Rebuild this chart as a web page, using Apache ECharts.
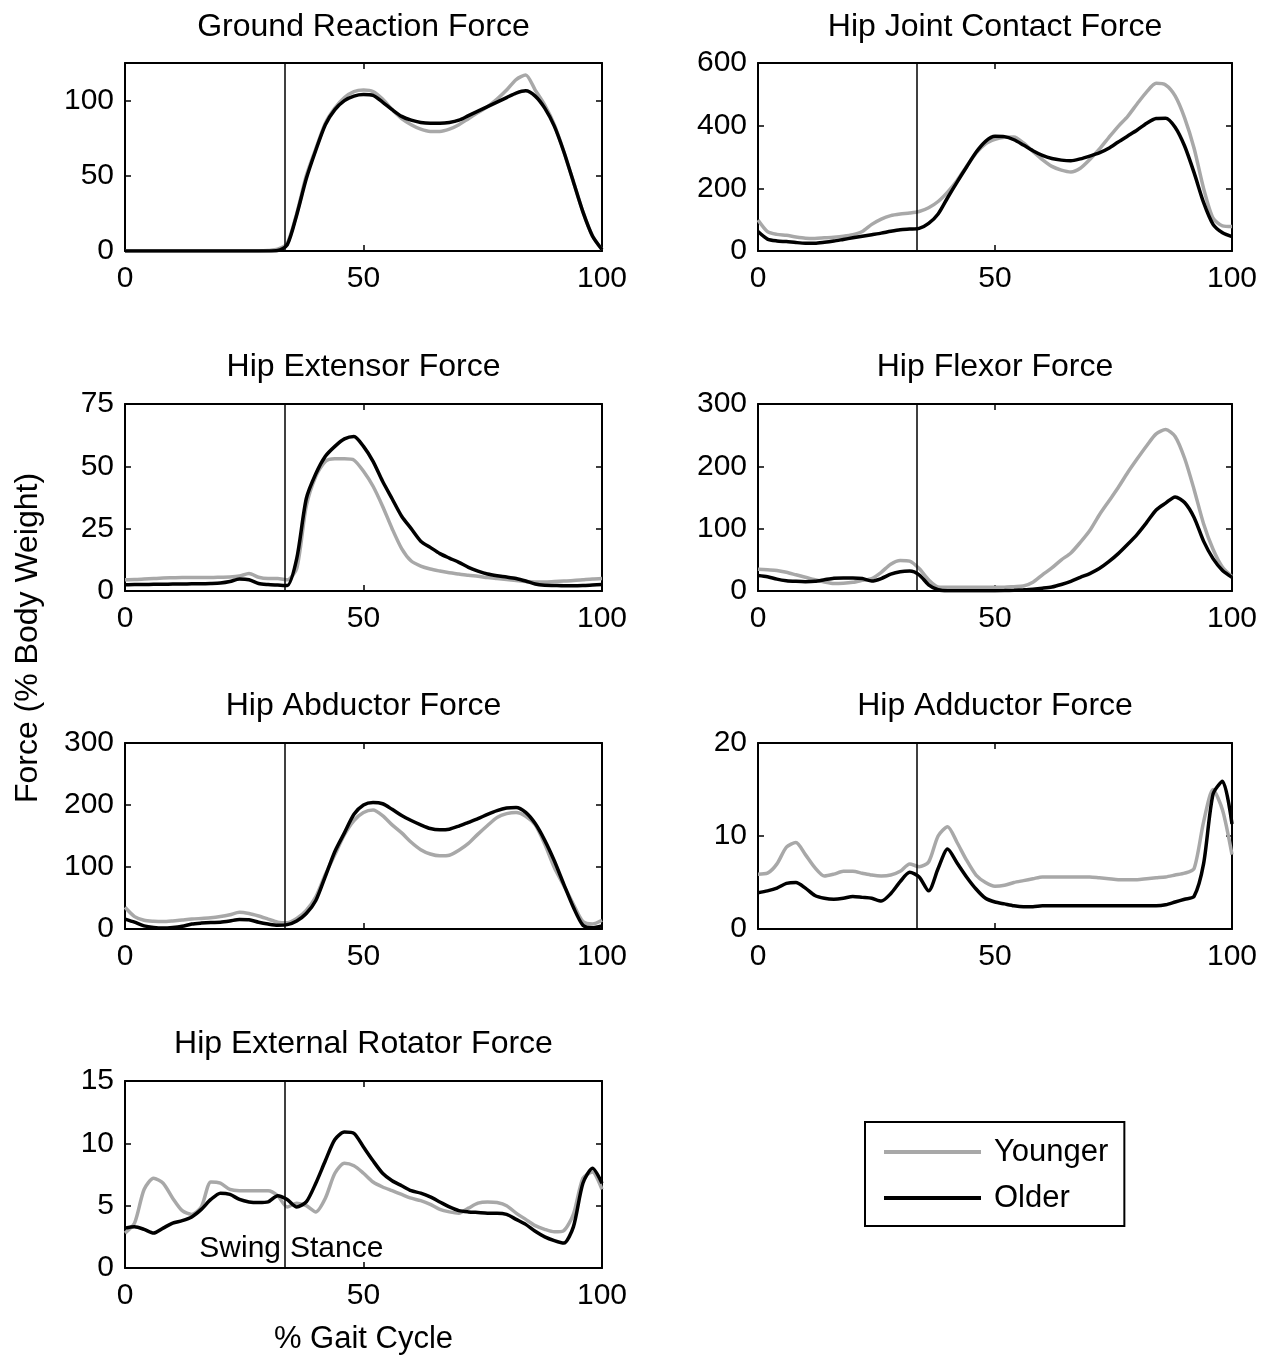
<!DOCTYPE html>
<html>
<head>
<meta charset="utf-8">
<title>Hip forces over the gait cycle</title>
<script src="https://cdn.jsdelivr.net/npm/echarts@6/dist/echarts.min.js"></script>
<style>
  html, body { margin: 0; padding: 0; background: #fff; }
  #chart { width: 1277px; height: 1359px; }
</style>
</head>
<body>
<div id="chart"></div>
<script>
// % gait cycle, sampled every 2%
var gait = [0, 2, 4, 6, 8, 10, 12, 14, 16, 18,
  20, 22, 24, 26, 28, 30, 32, 34, 36, 38,
  40, 42, 44, 46, 48, 50, 52, 54, 56, 58,
  60, 62, 64, 66, 68, 70, 72, 74, 76, 78,
  80, 82, 84, 86, 88, 90, 92, 94, 96, 98, 100];

var swingStance = 33.5; // toe-off / heel-strike line

var panelTitles = ['Ground Reaction Force', 'Hip Joint Contact Force', 'Hip Extensor Force',
  'Hip Flexor Force', 'Hip Abductor Force', 'Hip Adductor Force', 'Hip External Rotator Force'];
var yMax = [125, 600, 75, 300, 300, 20, 15];
var yStep = [50, 200, 25, 100, 100, 10, 5];
var xTicks = [0, 50, 100];

var grfYounger = [0, 0, 0, 0, 0, 0, 0, 0, 0, 0,
  0, 0, 0, 0, 0, 0.3, 1.2, 5, 25, 50,
  68, 85, 95, 102, 106, 107, 106, 101, 94, 88,
  84, 81, 79.5, 79.5, 81, 84, 88, 92, 96, 101,
  107, 114, 117, 107, 97, 84, 66, 46, 26, 10, 1];
var grfOlder = [0, 0, 0, 0, 0, 0, 0, 0, 0, 0,
  0, 0, 0, 0, 0, 0, 0.3, 4, 24, 48,
  67, 84, 94, 100, 103, 104, 103.5, 99, 94, 89.5,
  87, 85.5, 85, 85, 85.5, 87, 90, 93, 96, 99,
  102, 105, 106.5, 103, 95, 83, 66, 46, 26, 10, 1];

var hjcfYounger = [99, 62, 53, 50, 45, 41, 40, 42, 44, 47,
  52, 62, 85, 102, 113, 118, 121, 126, 138, 158,
  188, 225, 270, 312, 342, 356, 363, 364, 345, 318,
  292, 270, 258, 252, 264, 292, 325, 362, 398, 430,
  470, 508, 535, 530, 495, 425, 328, 200, 105, 80, 78];
var hjcfOlder = [62, 38, 32, 30, 27, 25, 25, 28, 32, 37,
  42, 47, 52, 57, 63, 68, 70, 72, 88, 118,
  170, 220, 268, 315, 350, 366, 365, 355, 338, 320,
  305, 295, 290, 288, 294, 303, 313, 328, 348, 367,
  386, 408, 423, 424, 395, 335, 250, 155, 85, 58, 46];

var extYounger = [4.5, 4.6, 4.8, 5, 5.2, 5.3, 5.4, 5.4, 5.4, 5.4,
  5.5, 5.6, 6, 7, 5.5, 5, 5, 4.5, 9, 34,
  46, 52, 53, 53, 52.5, 48, 42, 34, 25, 17,
  12, 10, 8.8, 8, 7.3, 6.8, 6.3, 5.9, 5.4, 5,
  4.6, 4.2, 3.8, 3.6, 3.6, 3.8, 4, 4.2, 4.5, 4.8, 5];
var extOlder = [2.5, 2.6, 2.6, 2.7, 2.7, 2.8, 2.8, 2.9, 2.9, 3,
  3.2, 3.8, 4.8, 4.5, 3, 2.6, 2.4, 2.2, 13, 37,
  47, 54, 58, 61, 62, 58, 52, 44, 37, 30,
  25, 20, 17.5, 15, 13.2, 11.5, 9.5, 8, 6.8, 6.1,
  5.6, 5, 4, 2.8, 2.3, 2.2, 2.1, 2.1, 2.2, 2.4, 2.6];

var flexYounger = [35, 34, 33, 30, 26, 22, 18, 14.5, 12, 12.5,
  14, 17, 20, 30, 43, 49, 48, 36, 18, 6.5,
  6, 6, 6, 6, 6, 6, 6, 7, 8, 14,
  26, 37, 50, 61, 78, 97, 122, 144, 166, 190,
  212, 233, 252, 259, 248, 213, 163, 108, 67, 38, 23];
var flexOlder = [25, 23, 19, 16.5, 15.5, 15, 15.5, 18, 20.5, 21,
  21, 20, 16, 20, 27, 31, 32, 26, 10, 2,
  0.5, 0.5, 0.5, 0.5, 0.5, 0.5, 0.7, 1.2, 2, 3,
  4.5, 6.5, 10.5, 15.5, 22, 28, 36, 47, 60, 75,
  91, 110, 130, 141, 151, 142, 118, 80, 52, 33, 22];

var abdYounger = [35, 20, 14, 12.5, 12, 13, 14.5, 16, 17, 18,
  20, 23, 27, 25, 21, 16, 11, 10, 17, 30,
  52, 88, 120, 152, 175, 188, 192, 183, 168, 155,
  140, 128, 121, 118, 119, 127, 138, 153, 167, 180,
  186, 188, 182, 168, 137, 99, 70, 40, 12, 8, 14];
var abdOlder = [16, 11, 5, 2.5, 1.6, 2.5, 4.5, 8, 9.5, 10.5,
  11, 13, 15.5, 15, 11, 8, 6, 7, 13, 25,
  46, 85, 125, 155, 185, 200, 204, 202, 193, 183,
  175, 168, 162, 160, 161, 166, 172, 178, 185, 191,
  195, 196, 188, 170, 143, 110, 72, 35, 6, 2, 5];

var addYounger = [5.9, 6, 7, 8.8, 9.3, 8, 6.6, 5.7, 5.9, 6.2,
  6.2, 6, 5.8, 5.7, 5.8, 6.2, 7, 6.7, 7.2, 10,
  11, 9.3, 7.4, 5.8, 5, 4.6, 4.7, 5, 5.2, 5.4,
  5.6, 5.6, 5.6, 5.6, 5.6, 5.6, 5.5, 5.4, 5.3, 5.3,
  5.3, 5.4, 5.5, 5.6, 5.8, 6, 6.5, 11.5, 15, 12.8, 8];
var addOlder = [3.9, 4.1, 4.4, 4.9, 5, 4.4, 3.6, 3.3, 3.2, 3.3,
  3.5, 3.4, 3.3, 3, 3.8, 5.1, 6.1, 5.6, 4.1, 6.5,
  8.6, 7.1, 5.6, 4.3, 3.3, 2.9, 2.7, 2.5, 2.4, 2.4,
  2.5, 2.5, 2.5, 2.5, 2.5, 2.5, 2.5, 2.5, 2.5, 2.5,
  2.5, 2.5, 2.5, 2.6, 2.9, 3.2, 3.5, 7, 14.5, 15.9, 11.3];

var erYounger = [2.8, 3.6, 6.3, 7.2, 6.8, 5.6, 4.6, 4.3, 4.9, 6.9,
  6.8, 6.3, 6.2, 6.2, 6.2, 6.2, 5.8, 4.9, 5.2, 5,
  4.5, 5.6, 7.6, 8.4, 8.2, 7.6, 6.9, 6.5, 6.2, 5.9,
  5.6, 5.4, 5.1, 4.7, 4.5, 4.4, 4.8, 5.2, 5.3, 5.25,
  5, 4.4, 3.9, 3.4, 3.1, 2.9, 3, 4.3, 7.2, 7.7, 6.3];
var erOlder = [3.2, 3.3, 3.1, 2.8, 3.2, 3.6, 3.8, 4.1, 4.7, 5.5,
  6, 5.9, 5.5, 5.3, 5.25, 5.3, 5.8, 5.5, 4.9, 5.3,
  6.8, 8.6, 10.3, 10.9, 10.8, 9.7, 8.6, 7.6, 7, 6.6,
  6.2, 6, 5.7, 5.3, 4.9, 4.6, 4.5, 4.45, 4.4, 4.4,
  4.3, 3.9, 3.5, 2.95, 2.5, 2.2, 2, 3.3, 6.8, 8, 6.8];

var younger = [grfYounger, hjcfYounger, extYounger, flexYounger, abdYounger, addYounger, erYounger];
var older = [grfOlder, hjcfOlder, extOlder, flexOlder, abdOlder, addOlder, erOlder];

var FONT = "'Liberation Sans', Arial, sans-serif";
var colLeft = [125, 758];
var colWidth = [477, 474];
var rowTop = [63, 404, 743, 1081];
var rowHeight = [188, 187, 186, 187];
var titleY = [27, 367, 706, 1044];

function pairs(ys) {
  return gait.map(function (x, i) { return [x, ys[i]]; });
}

var axisLine = { onZero: false, lineStyle: { color: '#000', width: 2 } };
var axisTick = { inside: true, length: 6, lineStyle: { color: '#000', width: 1.5 } };
var tickFont = { color: '#000', fontSize: 30, fontFamily: FONT };

var grids = [], xAxes = [], yAxes = [], series = [], graphics = [];

panelTitles.forEach(function (title, g) {
  var col = g % 2, row = Math.floor(g / 2);
  var step = yStep[g];
  grids.push({ left: colLeft[col], width: colWidth[col], top: rowTop[row], height: rowHeight[row] });

  xAxes.push({
    gridIndex: g, type: 'value', min: 0, max: 100, interval: 50, position: 'bottom',
    axisLine: axisLine, axisTick: axisTick, splitLine: { show: false },
    axisLabel: Object.assign({ margin: 13, formatter: function (v) { return xTicks.indexOf(v) >= 0 ? v : ''; } }, tickFont),
    name: g === 6 ? '% Gait Cycle' : '', nameLocation: 'middle', nameGap: 56,
    nameTextStyle: { color: '#000', fontSize: 31, fontFamily: FONT }
  });
  xAxes.push({
    gridIndex: g, type: 'value', min: 0, max: 100, interval: 50, position: 'top',
    axisLine: axisLine, axisTick: axisTick, splitLine: { show: false }, axisLabel: { show: false }
  });
  yAxes.push({
    gridIndex: g, type: 'value', min: 0, max: yMax[g], interval: step, position: 'left',
    axisLine: axisLine, axisTick: axisTick, splitLine: { show: false },
    axisLabel: Object.assign({ margin: 11, formatter: function (v) { return v % step === 0 ? v : ''; } }, tickFont)
  });
  yAxes.push({
    gridIndex: g, type: 'value', min: 0, max: yMax[g], interval: step, position: 'right',
    axisLine: axisLine, axisTick: axisTick, splitLine: { show: false }, axisLabel: { show: false }
  });

  series.push({
    name: 'Younger', type: 'line', xAxisIndex: 2 * g, yAxisIndex: 2 * g,
    data: pairs(younger[g]), symbol: 'none', smooth: 0.25,
    itemStyle: { color: '#a8a8a8' }, lineStyle: { color: '#a8a8a8', width: 3.5 }
  });
  series.push({
    name: 'Older', type: 'line', xAxisIndex: 2 * g, yAxisIndex: 2 * g,
    data: pairs(older[g]), symbol: 'none', smooth: 0.25,
    itemStyle: { color: '#000' }, lineStyle: { color: '#000', width: 3.5 },
    markLine: {
      silent: true, symbol: 'none', label: { show: false },
      lineStyle: { color: '#000', width: 1.5, type: 'solid' },
      data: [{ xAxis: swingStance }]
    }
  });

  graphics.push({
    type: 'text', x: colLeft[col] + colWidth[col] / 2, y: titleY[row],
    style: { text: title, fill: '#000', font: '32px ' + FONT, align: 'center', verticalAlign: 'middle',
      textAlign: 'center', textVerticalAlign: 'middle' }
  });
});

// phase labels in the last panel
graphics.push({
  type: 'text', x: 281, y: 1249,
  style: { text: 'Swing', fill: '#000', font: '30px ' + FONT, align: 'right', verticalAlign: 'middle',
    textAlign: 'right', textVerticalAlign: 'middle' }
});
graphics.push({
  type: 'text', x: 290, y: 1249,
  style: { text: 'Stance', fill: '#000', font: '30px ' + FONT, align: 'left', verticalAlign: 'middle',
    textAlign: 'left', textVerticalAlign: 'middle' }
});
// shared y label
graphics.push({
  type: 'text', x: 28, y: 638, rotation: Math.PI / 2,
  style: { text: 'Force (% Body Weight)', fill: '#000', font: '32px ' + FONT, align: 'center', verticalAlign: 'middle',
    textAlign: 'center', textVerticalAlign: 'middle' }
});

var myChart = echarts.init(document.getElementById('chart'));
myChart.setOption({
  animation: false,
  backgroundColor: '#fff',
  grid: grids,
  xAxis: xAxes,
  yAxis: yAxes,
  series: series,
  graphic: graphics,
  legend: {
    data: ['Younger', 'Older'], orient: 'vertical', left: 865, top: 1122,
    icon: 'rect', itemWidth: 97, itemHeight: 4, itemGap: 12,
    borderColor: '#000', borderWidth: 2, padding: [13, 16, 11, 19],
    textStyle: { color: '#000', fontSize: 31, fontFamily: FONT, lineHeight: 34, padding: [0, 0, 0, 8] }
  }
});
</script>
</body>
</html>
